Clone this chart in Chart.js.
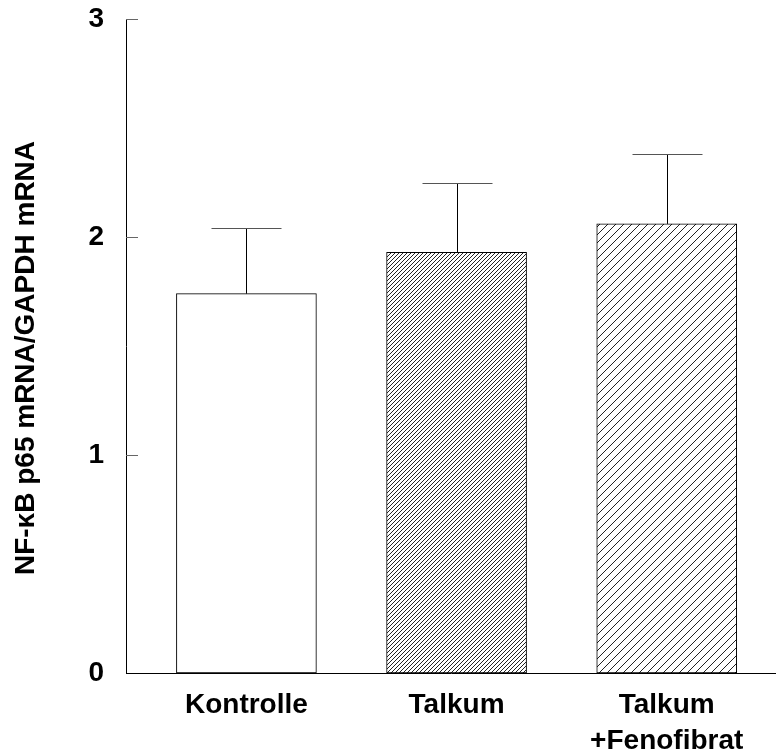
<!DOCTYPE html>
<html>
<head>
<meta charset="utf-8">
<script src="https://cdn.jsdelivr.net/npm/chart.js@4.4.1/dist/chart.umd.min.js"></script>
<style>
  html, body { margin: 0; padding: 0; background: #fff; }
  #wrap { width: 776px; height: 756px; }
</style>
</head>
<body>
<div id="wrap"><canvas id="grafico" width="776" height="756"></canvas></div>
<script>
// Datos
const gruppen = ['Kontrolle', 'Talkum', ['Talkum', '+Fenofibrat']];
const positionen = [1, 2, 3];
const mittelwerte = [1.74, 1.93, 2.06];
const fehler = [0.30, 0.32, 0.32];
const yTicks = [0, 1, 2, 3];
const achsenTitel = 'NF-\u03baB p65 mRNA/GAPDH mRNA';

const schrift = '"Liberation Sans", Arial, sans-serif';

// Schraffur-Muster
function muster(abstand) {
  const c = document.createElement('canvas');
  c.width = abstand;
  c.height = abstand;
  const g = c.getContext('2d');
  g.fillStyle = '#fff';
  g.fillRect(0, 0, abstand, abstand);
  g.strokeStyle = '#222';
  g.lineWidth = 1;
  g.beginPath();
  g.moveTo(-1, abstand + 1);
  g.lineTo(abstand + 1, -1);
  g.moveTo(-1, 1);
  g.lineTo(1, -1);
  g.moveTo(abstand - 1, abstand + 1);
  g.lineTo(abstand + 1, abstand - 1);
  g.stroke();
  return g.createPattern(c, 'repeat');
}

const ctx = document.getElementById('grafico').getContext('2d');
const fuellungen = ['#ffffff', muster(4), muster(8)];

// Fehlerbalken, Ticks nach innen, Achsentitel
const extras = {
  id: 'extras',
  afterDatasetsDraw(chart) {
    const c = chart.ctx;
    const y = chart.scales.y;
    const meta = chart.getDatasetMeta(0);
    c.save();
    meta.data.forEach((bar, i) => {
      const x = Math.round(bar.x) + 0.5;
      const y0 = y.getPixelForValue(mittelwerte[i]);
      const y1 = Math.round(y.getPixelForValue(mittelwerte[i] + fehler[i])) + 0.5;
      c.strokeStyle = '#000';
      c.lineWidth = 1;
      c.beginPath();
      c.moveTo(x, y0);
      c.lineTo(x, y1);
      c.stroke();
      c.strokeStyle = '#555';
      c.beginPath();
      c.moveTo(x - 35, y1);
      c.lineTo(x + 35, y1);
      c.stroke();
    });
    const links = chart.chartArea.left;
    c.strokeStyle = '#666';
    yTicks.forEach(v => {
      if (v === 0) return;
      const py = Math.round(y.getPixelForValue(v)) + 0.5;
      c.beginPath();
      c.moveTo(links, py);
      c.lineTo(links + 12, py);
      c.stroke();
    });
    c.translate(26, 358);
    c.rotate(-Math.PI / 2);
    c.fillStyle = '#000';
    c.font = 'bold 28px ' + schrift;
    c.textAlign = 'center';
    c.textBaseline = 'middle';
    c.fillText(achsenTitel, 0, 0);
    c.restore();
  }
};

new Chart(ctx, {
  type: 'bar',
  data: {
    datasets: [{
      data: positionen.map((p, i) => ({ x: p, y: mittelwerte[i] })),
      backgroundColor: fuellungen,
      borderColor: '#000',
      borderWidth: 1,
      borderSkipped: false,
      barThickness: 140
    }]
  },
  options: {
    responsive: false,
    animation: false,
    layout: { padding: { top: 19, left: 0, right: 0, bottom: 0 } },
    plugins: { legend: { display: false }, tooltip: { enabled: false } },
    scales: {
      x: {
        type: 'linear',
        offset: false,
        min: 0.427,
        max: 3.52,
        afterBuildTicks: s => { s.ticks = positionen.map(v => ({ value: v })); },
        afterFit: s => { s.height = 83; s.paddingLeft = 0; s.paddingRight = 0; },
        grid: { display: false, drawTicks: false, offset: false },
        border: { color: '#000', width: 1 },
        ticks: {
          autoSkip: false,
          maxRotation: 0,
          padding: 14,
          color: '#000',
          font: { family: schrift, size: 28, weight: 'bold', lineHeight: 1.3 },
          callback: (v) => gruppen[positionen.indexOf(v)]
        }
      },
      y: {
        min: 0,
        max: 3,
        afterBuildTicks: s => { s.ticks = yTicks.map(v => ({ value: v })); },
        afterFit: s => { s.width = 126; s.paddingTop = 0; s.paddingBottom = 0; },
        grid: { display: false, drawTicks: false },
        border: { color: '#000', width: 1 },
        ticks: {
          padding: 22,
          color: '#000',
          font: { family: schrift, size: 28, weight: 'bold' }
        }
      }
    }
  },
  plugins: [extras]
});
</script>
</body>
</html>
